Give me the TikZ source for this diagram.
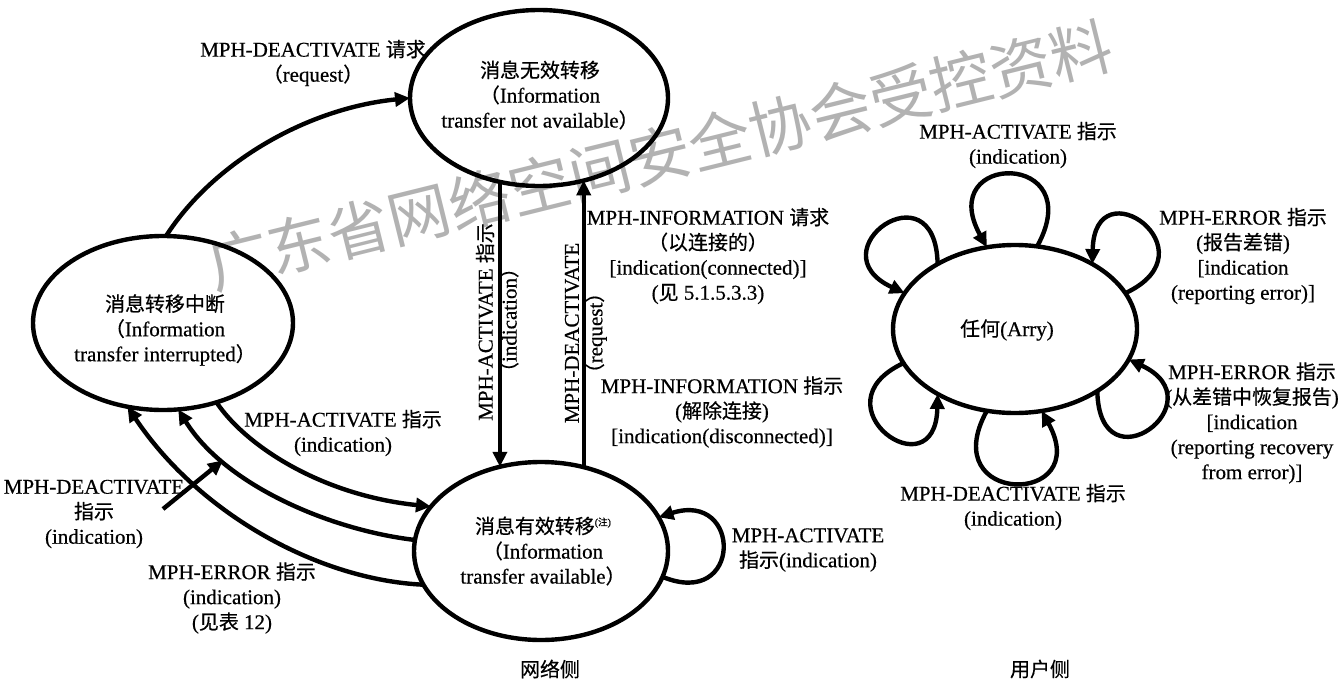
\documentclass[tikz,border=0pt]{standalone}
\usepackage{fontspec}
\setmainfont{Liberation Serif}[FakeBold=0.5]
\newfontfamily\zhf{Noto Sans CJK SC}[Scale=0.95,FakeBold=0.5]
\newfontfamily\wmf{Noto Sans CJK SC}
\newcommand{\zh}[1]{{\zhf #1}}
\usetikzlibrary{shapes.geometric,arrows.meta}
\begin{document}
\begin{tikzpicture}[x=1pt,y=-1pt,
  state/.style={ellipse,draw,line width=4.4pt,inner sep=0pt,outer sep=0pt},
  lbl/.style={align=center,inner sep=0pt,font=\fontsize{21}{25}\selectfont},
  conn/.style={line width=4.4pt,-{Triangle[length=15pt,width=14pt]}},
  wmark/.style={inner sep=0pt,text=black!30,font=\wmf\fontsize{62}{62}\selectfont},
]
\fill[white] (0,0) rectangle (1343,680);
\useasboundingbox (0,0) rectangle (1343,680);

% watermark
\node[wmark,rotate=13.9] (wm) at (660,155) {广东省网络空间安全协会受控资料};

% states
\node[state,minimum width=258pt,minimum height=176pt] (top) at (539,98) {};
\node[state,minimum width=260pt,minimum height=174pt] (left) at (163,323) {};
\node[state,minimum width=254pt,minimum height=178pt] (bot) at (541,551) {};
\node[state,minimum width=244pt,minimum height=168pt] (R) at (1015,329) {};

% state texts
\node[lbl] (t1) at (540,95) {\zh{消息无效转移}\\\zh{（}Information\\transfer not available\zh{）}};
\node[lbl] (t2) at (165,330) {\zh{消息转移中断}\\\zh{（}Information\\transfer interrupted\zh{）}};
\node[lbl] (t3) at (543,551) {\zh{消息有效转移}\raisebox{8pt}{\fontsize{10}{10}\selectfont(\zh{注})}\\\zh{（}Information\\transfer available\zh{）}};
\node[lbl] (t4) at (1007,330) {\zh{任何}(Arry)};

% network side connectors
\draw[conn] (left.88) .. controls (215,160) and (310,108) .. (top.180);
\draw[conn] (top.245) -- (top.245 |- bot.116);
\draw[conn] (bot.63) -- (bot.63 |- top.299);
\draw[conn] (left.304) .. controls (245,445) and (320,495) .. (bot.158);
\draw[conn] (bot.175) .. controls (330,530) and (225,485) .. coordinate[pos=0.75] (dm) (left.280);
\draw[conn] (bot.196) .. controls (320,580) and (200,515) .. (left.247);
\draw[conn] (bot.348) .. controls +(80,33) and +(84,-27) .. (bot.16);
\coordinate (ps) at (163,509);
\draw[conn] (ps) -- (dm);

% user side loops
\draw[conn] (R.75) .. controls +(53,-96) and +(-53,-96) .. (R.109);
\draw[conn] (R.18) .. controls +(90.6,-42.2) and +(2,-100) .. (R.40);
\draw[conn] (R.140) .. controls +(-2,-100) and +(-90.6,-42.2) .. (R.162);
\draw[conn] (R.323) .. controls +(2,100) and +(90.6,42.2) .. (R.345);
\draw[conn] (R.251) .. controls +(-53,96) and +(53,96) .. (R.288);
\draw[conn] (R.197) .. controls +(-90.6,42.2) and +(-2,100) .. (R.220);

% labels network side
\node[lbl] (l1) at (313,63) {MPH-DEACTIVATE \zh{请求}\\\zh{（}request\zh{）}};
\node[lbl,rotate=90] (l2) at (485,322) {MPH-ACTIVATE \zh{指示}};
\node[lbl,rotate=90] (l3) at (509,320) {\zh{（}indication\zh{）}};
\node[lbl,rotate=90] (l4) at (572,333) {MPH-DEACTIVATE};
\node[lbl,rotate=90] (l5) at (596,333) {\zh{（}request\zh{）}};
\node[lbl] (l6) at (708,256) {MPH-INFORMATION \zh{请求}\\\zh{（以连接的）}\\{[}indication(connected)]\\(\zh{见} 5.1.5.3.3)};
\node[lbl] (l7) at (722,412) {MPH-INFORMATION \zh{指示}\\(\zh{解除连接})\\{[}indication(disconnected)]};
\node[lbl] (l8) at (343,433) {MPH-ACTIVATE \zh{指示}\\(indication)};
\node[lbl] (l9) at (94,514) {MPH-DEACTIVATE\\\zh{指示}\\(indication)};
\node[lbl] (l10) at (232,598) {MPH-ERROR \zh{指示}\\(indication)\\(\zh{见表} 12)};
\node[lbl] (l11) at (808,550) {MPH-ACTIVATE\\\zh{指示}(indication)};
\node[lbl] (l12) at (550,669) {\zh{网络侧}};

% labels user side
\node[lbl] (u1) at (1018,145) {MPH-ACTIVATE \zh{指示}\\(indication)};
\node[lbl] (u2) at (1243,256) {MPH-ERROR \zh{指示}\\(\zh{报告差错})\\{[}indication\\(reporting error)]};
\node[lbl] (u3) at (1252,423) {MPH-ERROR \zh{指示}\\(\zh{从差错中恢复报告})\\{[}indication\\(reporting recovery\\from error)]};
\node[lbl] (u4) at (1013,507) {MPH-DEACTIVATE \zh{指示}\\(indication)};
\node[lbl] (u5) at (1040,669) {\zh{用户侧}};
\end{tikzpicture}
\end{document}
